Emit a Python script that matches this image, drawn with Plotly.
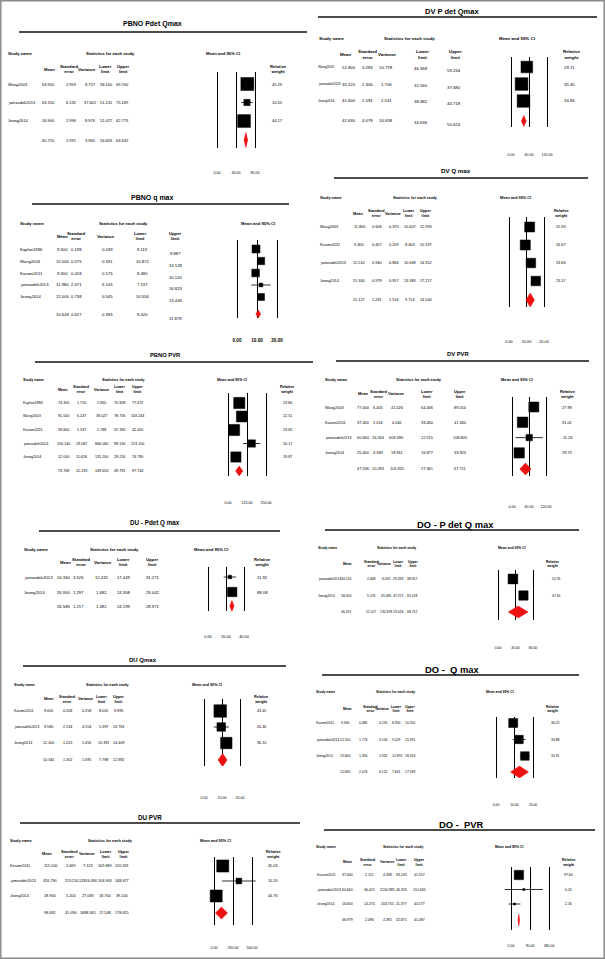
import math
import plotly.graph_objects as go

W, H = 605, 959
FONT = "Liberation Sans, Arial, Helvetica, sans-serif"
RED = "#EE1111"

# ======================= DATA =======================
# PBNO Pdet Qmax
pbno_pdet_studies = ["Wang2003", "jamzadeh2013", "Jeong2014"]
pbno_pdet_mean = [63.900, 63.150, 56.900]
pbno_pdet_se = [2.959, 6.132, 2.996]
pbno_pdet_var = [8.757, 37.602, 8.976]
pbno_pdet_lower = [58.100, 51.131, 51.027]
pbno_pdet_upper = [69.700, 75.169, 62.773]
pbno_pdet_weight = [45.29, 10.55, 44.17]
pbno_pdet_summary = [60.720, 1.991, 3.960, 56.826, 64.632]
pbno_pdet_ticks = [0, 40, 80]

# DV P det Qmax
dv_pdet_studies = ["Wang2003", "jamzadeh2013", "Jeong2014"]
dv_pdet_mean = [52.800, 35.120, 41.600]
dv_pdet_se = [3.283, 1.306, 1.591]
dv_pdet_var = [10.778, 1.706, 2.531]
dv_pdet_lower = [46.368, 32.560, 38.482]
dv_pdet_upper = [59.234, 37.680, 44.718]
dv_pdet_weight = [29.71, 35.45, 34.84]
dv_pdet_summary = [42.630, 4.079, 16.638, 34.636, 50.624]
dv_pdet_ticks = [0, 60, 120]

# PBNO q max (relative weights not printed)
pbno_q_studies = ["Kaplan1996", "Wang2003", "Karami2011", "jamzadeh2013", "Jeong2014"]
pbno_q_mean = [9.500, 12.000, 9.300, 11.980, 12.000]
pbno_q_se = [0.198, 0.575, 0.418, 2.471, 0.738]
pbno_q_var = [0.039, 0.331, 0.175, 6.105, 0.545]
pbno_q_lower = [9.113, 10.872, 8.480, 7.137, 10.554]
pbno_q_upper = [9.887, 13.128, 10.120, 16.823, 13.446]
pbno_q_weight = [26.5, 22.6, 24.6, 5.9, 20.4]
pbno_q_summary = [10.649, 0.627, 0.393, 9.420, 11.878]
pbno_q_ticks = [0, 10, 20]

# DV Q max
dv_q_studies = ["Wang2003", "Karami2011", "jamzadeh2013", "Jeong2014"]
dv_q_mean = [11.800, 9.300, 12.510, 15.300]
dv_q_se = [0.608, 0.457, 0.940, 0.978]
dv_q_var = [0.370, 0.209, 0.884, 0.957]
dv_q_lower = [10.607, 8.403, 10.668, 13.383]
dv_q_upper = [12.993, 10.197, 14.352, 17.217]
dv_q_weight = [25.93, 26.67, 23.84, 23.57]
dv_q_summary = [12.127, 1.231, 1.516, 9.714, 14.540]
dv_q_ticks = [0, 10, 20]

# PBNO PVR
pbno_pvr_studies = ["Kaplan1996", "Wang2003", "Karami2011", "jamzadeh2013", "Jeong2014"]
pbno_pvr_mean = [74.300, 91.000, 39.800, 156.140, 52.000]
pbno_pvr_se = [1.720, 6.247, 1.337, 29.087, 11.626]
pbno_pvr_var = [2.960, 39.027, 1.788, 846.060, 135.200]
pbno_pvr_lower = [70.928, 78.756, 37.180, 99.130, 29.216]
pbno_pvr_upper = [77.672, 103.244, 42.420, 213.150, 74.790]
pbno_pvr_weight = [23.80, 22.51, 23.65, 10.17, 19.87]
pbno_pvr_summary = [73.768, 12.233, 149.653, 49.791, 97.744]
pbno_pvr_ticks = [0, 125, 250]

# DV PVR
dv_pvr_studies = ["Wang2003", "Karami2011", "jamzadeh2013", "Jeong2014"]
dv_pvr_mean = [77.000, 37.400, 60.660, 25.400]
dv_pvr_se = [6.405, 2.016, 24.564, 4.349]
dv_pvr_var = [41.026, 4.062, 603.390, 18.911]
dv_pvr_lower = [64.446, 33.460, 12.515, 16.877]
dv_pvr_upper = [89.554, 41.340, 108.805, 33.923]
dv_pvr_weight = [27.99, 31.02, 11.26, 29.73]
dv_pvr_summary = [47.536, 10.293, 105.955, 27.361, 67.711]
dv_pvr_ticks = [0, 60, 120]

# DU - Pdet Q max
du_pdet_studies = ["jamzadeh2013", "Jeong2014"]
du_pdet_mean = [24.360, 26.900]
du_pdet_se = [3.526, 1.297]
du_pdet_var = [12.432, 1.682]
du_pdet_lower = [17.449, 24.358]
du_pdet_upper = [31.271, 29.442]
du_pdet_weight = [11.92, 88.08]
du_pdet_summary = [26.585, 1.217, 1.482, 24.199, 28.971]
du_pdet_ticks = [0, 20, 40]

# DO - P det Q max
do_pdet_studies = ["jamzadeh2013", "Jeong2014"]
do_pdet_mean = [34.120, 58.200]
do_pdet_se = [2.468, 5.576]
do_pdet_var = [6.092, 31.085]
do_pdet_lower = [29.283, 47.272]
do_pdet_upper = [38.957, 69.128]
do_pdet_weight = [52.35, 47.65]
do_pdet_summary = [46.119, 11.527, 132.878, 23.526, 68.712]
do_pdet_ticks = [0, 40, 80]

# DU Qmax
du_q_studies = ["Karami2011", "jamzadeh2013", "Jeong2014"]
du_q_mean = [9.000, 9.580, 12.400]
du_q_se = [0.508, 2.134, 1.025]
du_q_var = [0.258, 4.554, 1.050]
du_q_lower = [8.005, 5.397, 10.391]
du_q_upper = [9.995, 13.763, 14.409]
du_q_weight = [43.45, 20.46, 36.10]
du_q_summary = [10.340, 1.302, 1.695, 7.788, 12.892]
du_q_ticks = [0, 10, 20]

# DO - Q max
do_q_studies = ["Karami2011", "jamzadeh2013", "Jeong2014"]
do_q_mean = [9.300, 12.510, 15.600]
do_q_se = [0.485, 1.776, 1.390]
do_q_var = [0.235, 3.156, 1.932]
do_q_lower = [8.350, 9.029, 12.876]
do_q_upper = [10.250, 15.991, 18.324]
do_q_weight = [36.22, 30.88, 32.91]
do_q_summary = [12.690, 2.474, 6.122, 7.841, 17.539]
do_q_ticks = [0, 10, 20]

# DU PVR
du_pvr_studies = ["Karami2011", "jamzadeh2013", "Jeong2014"]
du_pvr_mean = [115.100, 326.790, 28.900]
du_pvr_se = [2.669, 113.210, 5.204]
du_pvr_var = [7.123, 12816.490, 27.083]
du_pvr_lower = [109.869, 104.903, 18.700]
du_pvr_upper = [120.331, 548.677, 39.100]
du_pvr_weight = [45.03, 10.20, 44.76]
du_pvr_summary = [98.081, 41.090, 1688.361, 17.548, 178.615]
du_pvr_ticks = [0, 250, 500]

# DO - PVR
do_pvr_studies = ["Karami2011", "jamzadeh2013", "Jeong2014"]
do_pvr_mean = [37.400, 60.660, 16.600]
do_pvr_se = [2.121, 46.422, 14.274]
do_pvr_var = [4.498, 2154.985, 203.755]
do_pvr_lower = [33.243, -30.325, -11.377]
do_pvr_upper = [41.557, 151.645, 44.577]
do_pvr_weight = [97.64, 0.20, 2.16]
do_pvr_summary = [36.979, 2.096, 4.392, 32.871, 41.087]
do_pvr_ticks = [0, 90, 180]


def panel(title, studies, mean, se, var, lower, upper, weight, summary, ticks, show_weight=True):
    return dict(title=title, studies=studies, mean=mean, se=se, var=var, lower=lower,
                upper=upper, weight=weight, summary=summary, ticks=ticks, show_weight=show_weight)


panels = [
    panel("PBNO Pdet Qmax", pbno_pdet_studies, pbno_pdet_mean, pbno_pdet_se, pbno_pdet_var,
          pbno_pdet_lower, pbno_pdet_upper, pbno_pdet_weight, pbno_pdet_summary, pbno_pdet_ticks),
    panel("DV P det Qmax", dv_pdet_studies, dv_pdet_mean, dv_pdet_se, dv_pdet_var,
          dv_pdet_lower, dv_pdet_upper, dv_pdet_weight, dv_pdet_summary, dv_pdet_ticks),
    panel("PBNO q max", pbno_q_studies, pbno_q_mean, pbno_q_se, pbno_q_var,
          pbno_q_lower, pbno_q_upper, pbno_q_weight, pbno_q_summary, pbno_q_ticks, False),
    panel("DV Q max", dv_q_studies, dv_q_mean, dv_q_se, dv_q_var,
          dv_q_lower, dv_q_upper, dv_q_weight, dv_q_summary, dv_q_ticks),
    panel("PBNO PVR", pbno_pvr_studies, pbno_pvr_mean, pbno_pvr_se, pbno_pvr_var,
          pbno_pvr_lower, pbno_pvr_upper, pbno_pvr_weight, pbno_pvr_summary, pbno_pvr_ticks),
    panel("DV PVR", dv_pvr_studies, dv_pvr_mean, dv_pvr_se, dv_pvr_var,
          dv_pvr_lower, dv_pvr_upper, dv_pvr_weight, dv_pvr_summary, dv_pvr_ticks),
    panel("DU - Pdet Q max", du_pdet_studies, du_pdet_mean, du_pdet_se, du_pdet_var,
          du_pdet_lower, du_pdet_upper, du_pdet_weight, du_pdet_summary, du_pdet_ticks),
    panel("DO - P det Q max", do_pdet_studies, do_pdet_mean, do_pdet_se, do_pdet_var,
          do_pdet_lower, do_pdet_upper, do_pdet_weight, do_pdet_summary, do_pdet_ticks),
    panel("DU Qmax", du_q_studies, du_q_mean, du_q_se, du_q_var,
          du_q_lower, du_q_upper, du_q_weight, du_q_summary, du_q_ticks),
    panel("DO -  Q max", do_q_studies, do_q_mean, do_q_se, do_q_var,
          do_q_lower, do_q_upper, do_q_weight, do_q_summary, do_q_ticks),
    panel("DU PVR", du_pvr_studies, du_pvr_mean, du_pvr_se, du_pvr_var,
          du_pvr_lower, du_pvr_upper, du_pvr_weight, du_pvr_summary, du_pvr_ticks),
    panel("DO -  PVR", do_pvr_studies, do_pvr_mean, do_pvr_se, do_pvr_var,
          do_pvr_lower, do_pvr_upper, do_pvr_weight, do_pvr_summary, do_pvr_ticks),
]

# ======================= LAYOUT / STYLE (pixels) =======================
layouts = [
    dict(tx=152, ty=24, tsize=7, ul=(19, 307, 32), hy=53, sx=7, stx=110, cix=223, chy=69,
         ch=[49, 69, 87, 105, 123], wh=278, cx=[48, 71, 90, 106, 122], wx=277, nx=7,
         y0=84, dy=18.5, ysum=140, ax0=217, ax1=255, top=72, bot=148, tky=171,
         fs=4, hs=4.2, ks=3.6, bk=1.93, dh=15),
    dict(tx=452, ty=12, tsize=7.5, ul=(318, 597, 17), hy=39, sx=318, stx=409, cix=517, chy=54,
         ch=[346, 367, 387, 422, 455], wh=571, cx=[349, 368, 386, 421, 454], wx=569, nx=317, nfs=3.3,
         y0=67, dy=17, ysum=121, ldy=1, udy=3, ax0=511, ax1=547, top=57, bot=127, tky=153,
         fs=4.3, hs=4.4, ks=3.6, bk=2.14, dh=11),
    dict(tx=152, ty=198, tsize=7, ul=(32, 289, 204), hy=223, sx=19, stx=123, cix=258, chy=236,
         ch=[62, 77, 106, 140, 175], wh=None, cx=[62, 77, 107, 142, 175], wx=None, nx=19,
         y0=249, dy=12, ysum=314, udy=4, ax0=237, ax1=277, top=240, bot=318, tky=339,
         fs=4.2, hs=4.2, ks=4.6, kbold=True, bk=1.55, dh=8),
    dict(tx=456, ty=170, tsize=6.2, ul=(334, 588, 178), hy=198, sx=319, stx=415, cix=515, chy=214,
         ch=[358, 377, 393, 409, 425], wh=561, cx=[359, 377, 394, 410, 426], wx=561, nx=319,
         y0=227, dy=18, ysum=300, ax0=509, ax1=544, top=217, bot=307, tky=340,
         fs=3.8, hs=3.8, ks=3.8, bk=1.96, dh=14),
    dict(tx=165, ty=355, tsize=5.8, ul=(35, 313, 362), hy=380, sx=22, stx=124, cix=232, chy=390,
         ch=[63, 82, 102, 119, 137], wh=287, cx=[63, 82, 101, 119, 137], wx=287, nx=22,
         y0=403, dy=13.5, ysum=471, ax0=228, ax1=266, top=393, bot=476, tky=501,
         fs=3.7, hs=3.7, ks=3.6, bk=2.3, dh=10),
    dict(tx=458, ty=354, tsize=5.8, ul=(336, 589, 361), hy=379, sx=324, stx=419, cix=517, chy=394,
         ch=[363, 378, 397, 427, 460], wh=568, cx=[363, 378, 397, 427, 460], wx=567, nx=324,
         y0=407, dy=15.3, ysum=469, ax0=512, ax1=546, top=397, bot=476, tky=505,
         fs=3.9, hs=3.9, ks=3.6, bk=1.9, dh=12),
    dict(tx=155, ty=523, tsize=6.3, ul=(39, 280, 531), hy=549, sx=23, stx=114, cix=211, chy=562,
         ch=[65, 81, 103, 123, 152], wh=262, cx=[63, 78, 102, 123, 152], wx=262, nx=23,
         y0=577, dy=15, ysum=606, ax0=208, ax1=244, top=567, bot=611, tky=635,
         fs=4.2, hs=4.2, ks=3.8, bk=1.0, bmin=3.5, dh=11),
    dict(tx=455, ty=524, tsize=9.4, ul=(325, 579, 530), ulw=1.6, hy=548, sx=317,
         stx=397, cix=512, chy=564, ch=[348, 371, 384, 398, 413], wh=552,
         cx=[346, 371, 386, 398, 412], wx=556, nx=317, y0=579, dy=16.5, ysum=612,
         ax0=498, ax1=533, top=570, bot=620, tky=647, fs=3.4, hs=3.4, ks=3.4, bk=1.35, dh=12),
    dict(tx=143, ty=660, tsize=6, ul=(23, 286, 666), hy=685, sx=13, stx=108, cix=207, chy=699,
         ch=[49, 67, 85, 102, 118], wh=261, cx=[48, 67, 86, 103, 118], wx=261, nx=13,
         y0=711, dy=16, ysum=760, ax0=204, ax1=240, top=699, bot=766, tky=796,
         fs=3.7, hs=3.7, ks=3.6, bk=1.9, dh=13),
    dict(tx=452, ty=669, tsize=9.4, ul=(322, 579, 675), ulw=1.6, hy=692, sx=315,
         stx=395, cix=500, chy=709, ch=[348, 370, 382, 397, 410], wh=552,
         cx=[345, 363, 383, 397, 410], wx=555, nx=315, y0=723, dy=16.5, ysum=772,
         ax0=496, ax1=533, top=717, bot=778, tky=804, fs=3.4, hs=3.4, ks=3.4, bk=1.5, dh=12),
    dict(tx=150, ty=817, tsize=6.3, ul=(20, 300, 823), hy=841, sx=9, stx=110, cix=215, chy=854,
         ch=[47, 69, 87, 106, 123], wh=273, cx=[50, 71, 88, 105, 122], wx=273, nx=9,
         y0=866, dy=15, ysum=913, ax0=214, ax1=252, top=857, bot=925, tky=946,
         fs=3.8, hs=3.8, ks=3.6, bk=1.8, dh=12),
    dict(tx=461, ty=824, tsize=9.4, ul=(324, 595, 830), ulw=1.6, hy=847, sx=315,
         stx=403, cix=509, chy=862, ch=[348, 368, 387, 401, 419], wh=568,
         cx=[347, 369, 388, 401, 419], wx=568, nx=316, y0=875, dy=14.5, ysum=920,
         ax0=511, ax1=549, top=867, bot=930, tky=945, fs=3.5, hs=3.5, ks=3.5, bk=0.95, bmin=2, dh=12),
]

COL_LABELS = ["Mean", "Standard<br>error", "Variance", "Lower<br>limit", "Upper<br>limit"]

annotations = []
shapes = []
axes = {}
fig = go.Figure()


def ann(x, y, s, size, anchor="center", bold=False, family=FONT, color="#000"):
    if bold:
        s = "<b>%s</b>" % s
    annotations.append(dict(x=x / W, y=1 - y / H, xref="paper", yref="paper", text=s,
                            showarrow=False, xanchor=anchor, yanchor="middle", borderpad=0,
                            font=dict(size=size, family=family, color=color)))


for k, (P, Lo) in enumerate(zip(panels, layouts), start=1):
    xr = "x" if k == 1 else "x%d" % k
    yr = "y" if k == 1 else "y%d" % k
    xname = "xaxis" if k == 1 else "xaxis%d" % k
    yname = "yaxis" if k == 1 else "yaxis%d" % k

    # title + rule
    ann(Lo["tx"], Lo["ty"], P["title"], Lo["tsize"], bold=True)
    ux0, ux1, uy = Lo["ul"]
    shapes.append(dict(type="line", xref="paper", yref="paper", x0=ux0 / W, x1=ux1 / W,
                       y0=1 - uy / H, y1=1 - uy / H, line=dict(color="#111", width=Lo.get("ulw", 1.3))))

    hs = Lo["hs"]
    ann(Lo["sx"], Lo["hy"], "Study name", hs, "left", True)
    ann(Lo["stx"], Lo["hy"], "Statistics for each study", hs, bold=True)
    ann(Lo["cix"], Lo["hy"], "Mean and 95% CI", hs, bold=True)
    for lab, x in zip(COL_LABELS, Lo["ch"]):
        ann(x, Lo["chy"], lab, hs, bold=True)
    if P["show_weight"]:
        ann(Lo["wh"], Lo["chy"], "Relative<br>weight", hs, bold=True)

    fs = Lo["fs"]
    nfs = Lo.get("nfs", fs)
    offs = [0, 0, 0, Lo.get("ldy", 0), Lo.get("udy", 0)]
    n = len(P["studies"])
    for i in range(n):
        y = Lo["y0"] + i * Lo["dy"]
        ann(Lo["nx"], y, P["studies"][i], nfs, "left")
        vals = [P["mean"][i], P["se"][i], P["var"][i], P["lower"][i], P["upper"][i]]
        for v, x, o in zip(vals, Lo["cx"], offs):
            ann(x, y + o, "%.3f" % v, fs)
        if P["show_weight"]:
            ann(Lo["wx"], y, "%.2f" % P["weight"][i], fs)
    for v, x, o in zip(P["summary"], Lo["cx"], offs):
        ann(x, Lo["ysum"] + o, "%.3f" % v, fs)

    # axes
    ticks = P["ticks"]
    tmax = ticks[-1]
    ext = 0.45
    ax0, ax1 = Lo["ax0"], Lo["ax1"]
    dl = ax0 - ext * (ax1 - ax0)
    dr = ax1 + ext * (ax1 - ax0)
    ks = Lo["ks"]
    tt = ["%.2f" % t for t in ticks]
    if Lo.get("kbold"):
        tt = ["<b>%s</b>" % t for t in tt]
    axes[xname] = dict(domain=[dl / W, dr / W], range=[-ext * tmax, (1 + ext) * tmax], anchor=yr,
                       tickvals=ticks, ticktext=tt, showgrid=True, gridcolor="#000", gridwidth=1,
                       zeroline=False, showline=False, ticks="outside",
                       ticklen=max(1, Lo["tky"] - Lo["bot"] - 1 - ks / 2),
                       tickcolor="rgba(0,0,0,0)", tickfont=dict(size=ks, family=FONT, color="#000"),
                       fixedrange=True)
    top, bot, y0, dy = Lo["top"], Lo["bot"], Lo["y0"], Lo["dy"]
    axes[yname] = dict(domain=[1 - bot / H, 1 - top / H], range=[(bot - y0) / dy, (top - y0) / dy],
                       anchor=xr, visible=False, fixedrange=True)

    # study boxes + CIs
    sizes = [max(Lo.get("bmin", 2.5), Lo["bk"] * math.sqrt(w)) for w in P["weight"]]
    fig.add_trace(go.Scatter(
        x=P["mean"], y=list(range(n)), mode="markers",
        marker=dict(symbol="square", size=sizes, color="#000000", opacity=1,
                    line=dict(width=0.5, color="#000000")),
        error_x=dict(type="data", symmetric=False,
                     array=[u - m for u, m in zip(P["upper"], P["mean"])],
                     arrayminus=[m - l for m, l in zip(P["mean"], P["lower"])],
                     color="#000000", thickness=0.8, width=0),
        xaxis=xr, yaxis=yr, showlegend=False, hoverinfo="skip"))

    # summary diamond
    sm, sl, su = P["summary"][0], P["summary"][3], P["summary"][4]
    ys = (Lo["ysum"] - y0) / dy
    hh = Lo["dh"] / 2 / dy
    fig.add_trace(go.Scatter(
        x=[sl, sm, su, sm, sl], y=[ys, ys - hh, ys, ys + hh, ys], mode="lines", fill="toself",
        fillcolor=RED, line=dict(color=RED, width=0.5), xaxis=xr, yaxis=yr,
        showlegend=False, hoverinfo="skip"))

# outer frame
shapes.append(dict(type="rect", xref="paper", yref="paper", x0=0.8 / W, x1=1 - 0.8 / W,
                   y0=0.8 / H, y1=1 - 0.8 / H, line=dict(color="#8a8a8a", width=1.5)))

fig.update_layout(width=W, height=H, margin=dict(l=0, r=0, t=0, b=0),
                  paper_bgcolor="white", plot_bgcolor="rgba(0,0,0,0)", hovermode=False,
                  annotations=annotations, shapes=shapes, showlegend=False, **axes)

fig.write_html("out.html", config={"displayModeBar": False, "staticPlot": True},
               post_script=["document.body.style.margin='0px';document.body.style.overflow='hidden';"])
